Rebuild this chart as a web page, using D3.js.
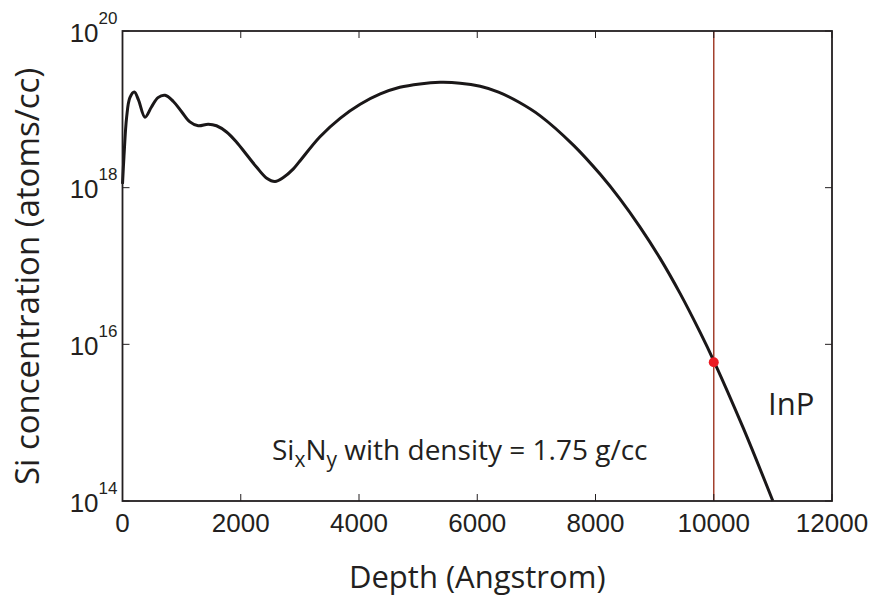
<!DOCTYPE html>
<html>
<head>
<meta charset="utf-8">
<script src="https://cdn.jsdelivr.net/npm/d3@7"></script>
<style>
  body { margin: 0; background: #fff; }
  text { fill: #231f20; }
</style>
</head>
<body>
<div id="chart"></div>
<script>
// depth (Angstrom) and Si concentration (atoms/cc)
const depth = [0, 25, 70, 125, 200, 270, 380, 490, 600, 720, 860, 1000, 1140, 1280,
    1450, 1590, 1760, 1930, 2100, 2270, 2440, 2580, 2720, 2890, 3000, 3340, 3680,
    4020, 4360, 4690, 5030, 5370, 5710, 6050, 6360, 6700, 7060, 7630, 8080, 8410,
    8750, 9090, 9430, 9770, 10000, 10500, 11000];
const conc = [1.12e18, 2.51e18, 7.94e18, 1.41e19, 1.66e19, 1.32e19, 7.94e18, 1.07e19,
    1.41e19, 1.51e19, 1.26e19, 9.33e18, 6.92e18, 6.17e18, 6.46e18, 6.17e18, 5.13e18,
    3.80e18, 2.63e18, 1.82e18, 1.32e18, 1.20e18, 1.35e18, 1.74e18, 2.19e18, 4.47e18,
    7.67e18, 1.16e19, 1.57e19, 1.91e19, 2.11e19, 2.21e19, 2.16e19, 1.97e19, 1.66e19,
    1.24e19, 8.32e18, 3.47e18, 1.48e18, 7.24e17, 3.16e17, 1.26e17, 4.47e16, 1.42e16,
    6.17e15, 8.51e14, 1.00e14];

const xTicks = [0, 2000, 4000, 6000, 8000, 10000, 12000];
const yTickExp = [14, 16, 18, 20];

const interfaceDepth = 10000;
const interfaceConc = 5.9e15;

const width = 873, height = 596;
const margin = { top: 31, right: 41, bottom: 95, left: 122.5 };

const svg = d3.select("#chart").append("svg")
    .attr("width", width)
    .attr("height", height);

const x = d3.scaleLinear().domain([0, 12000]).range([margin.left, width - margin.right]);
const y = d3.scaleLog().domain([1e14, 1e20]).range([height - margin.bottom, margin.top]);

const x0 = x.range()[0], x1 = x.range()[1];
const y0 = y.range()[0], y1 = y.range()[1];

// vertical interface line
svg.append("line")
    .attr("x1", x(interfaceDepth)).attr("x2", x(interfaceDepth))
    .attr("y1", y1).attr("y2", y0)
    .attr("stroke", "#a3412e")
    .attr("stroke-width", 1.5);

// profile
const line = d3.line()
    .x((d, i) => x(depth[i]))
    .y(d => y(d))
    .curve(d3.curveCatmullRom.alpha(0.5));

svg.append("path")
    .datum(conc)
    .attr("d", line)
    .attr("fill", "none")
    .attr("stroke", "#1a1718")
    .attr("stroke-width", 3);

svg.append("circle")
    .attr("cx", x(interfaceDepth))
    .attr("cy", y(interfaceConc))
    .attr("r", 5)
    .attr("fill", "#ec1c24");

// frame
svg.append("rect")
    .attr("x", x0).attr("y", y1)
    .attr("width", x1 - x0).attr("height", y0 - y1)
    .attr("fill", "none")
    .attr("stroke", "#231f20")
    .attr("stroke-width", 1.8);

// ticks (inward, on all four sides)
const tickLen = 7;
xTicks.forEach(t => {
    svg.append("line").attr("x1", x(t)).attr("x2", x(t))
        .attr("y1", y0).attr("y2", y0 - tickLen)
        .attr("stroke", "#231f20").attr("stroke-width", 1);
    svg.append("line").attr("x1", x(t)).attr("x2", x(t))
        .attr("y1", y1).attr("y2", y1 + tickLen)
        .attr("stroke", "#231f20").attr("stroke-width", 1);
    svg.append("text")
        .attr("x", x(t)).attr("y", y0 + 31)
        .attr("text-anchor", "middle")
        .style("font-family", "Liberation Sans, Arial, sans-serif")
        .style("font-size", "26px")
        .text(t);
});

yTickExp.forEach(e => {
    const v = Math.pow(10, e);
    svg.append("line").attr("x1", x0).attr("x2", x0 + tickLen)
        .attr("y1", y(v)).attr("y2", y(v))
        .attr("stroke", "#231f20").attr("stroke-width", 1);
    svg.append("line").attr("x1", x1).attr("x2", x1 - tickLen)
        .attr("y1", y(v)).attr("y2", y(v))
        .attr("stroke", "#231f20").attr("stroke-width", 1);
    const lbl = svg.append("text")
        .attr("x", x0 - 5).attr("y", y(v) + 10.5)
        .attr("text-anchor", "end")
        .style("font-family", "Liberation Sans, Arial, sans-serif")
        .style("font-size", "26px");
    lbl.append("tspan").text("10");
    lbl.append("tspan").attr("dy", -18).style("font-size", "17px").text(e);
});

// axis labels
svg.append("text")
    .attr("x", (x0 + x1) / 2).attr("y", 588)
    .attr("text-anchor", "middle")
    .style("font-family", "Open Sans, sans-serif")
    .style("font-size", "31px")
    .text("Depth (Angstrom)");

svg.append("text")
    .attr("transform", `translate(38.5,276.5) rotate(-90)`)
    .attr("text-anchor", "middle")
    .style("font-family", "Open Sans, sans-serif")
    .style("font-size", "33px")
    .text("Si concentration (atoms/cc)");

// annotations
const note = svg.append("text")
    .attr("x", 272).attr("y", 460)
    .style("font-family", "Open Sans, sans-serif")
    .style("font-size", "28px");
note.append("tspan").text("Si");
note.append("tspan").attr("dy", 7).style("font-size", "21px").text("x");
note.append("tspan").attr("dy", -7).text("N");
note.append("tspan").attr("dy", 7).style("font-size", "21px").text("y");
note.append("tspan").attr("dy", -7).text(" with density = 1.75 g/cc");

svg.append("text")
    .attr("x", 768).attr("y", 415)
    .style("font-family", "Open Sans, sans-serif")
    .style("font-size", "31px")
    .text("InP");
</script>
</body>
</html>
